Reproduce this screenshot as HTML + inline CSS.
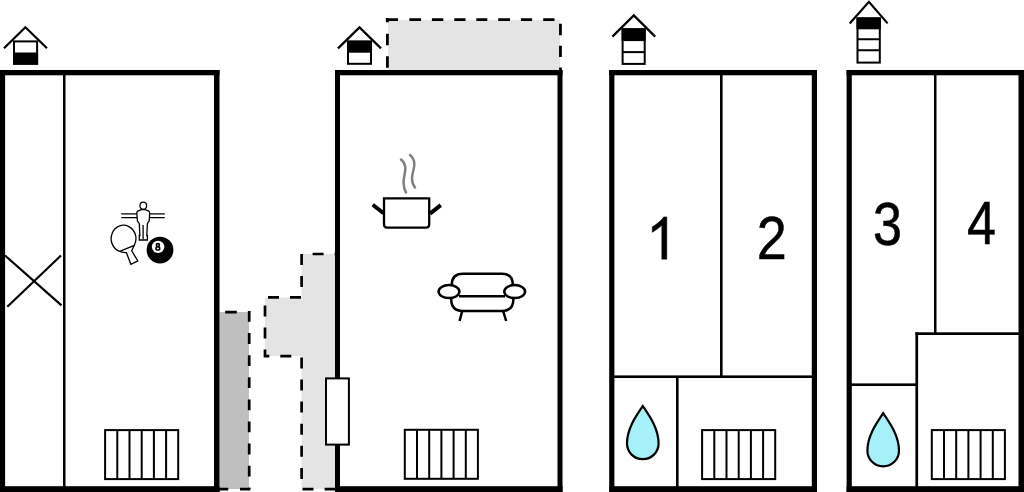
<!DOCTYPE html>
<html><head><meta charset="utf-8">
<style>
html,body{margin:0;padding:0;background:#fff;width:1024px;height:492px;overflow:hidden}
svg{display:block}
text{font-family:"Liberation Sans",sans-serif}
</style></head>
<body>
<svg width="1024" height="492" viewBox="0 0 1024 492">
<defs>
<g id="rad">
<rect x="1" y="1" width="73.1" height="49" fill="#fff" stroke="#000" stroke-width="2"/>
<path d="M13.2 1V50M25.4 1V50M37.6 1V50M49.8 1V50M62 1V50" stroke="#000" stroke-width="2"/>
</g>
<path id="drop" d="M0 0C-6 9 -15.8 22 -15.8 37.6A15.8 15.6 0 0 0 15.8 37.6C15.8 22 6 9 0 0Z" fill="#a6f0fa" stroke="#000" stroke-width="2.2" stroke-linejoin="miter"/>
</defs>

<!-- ============ grey annexes ============ -->
<!-- dark strip right of building 1 -->
<rect x="219.5" y="312" width="29.5" height="177" fill="#bfbfbf"/>
<g fill="none" stroke="#000" stroke-width="2.7">
<path d="M219.5 312.2H249" stroke-dasharray="0 5.7 11.6 100"/>
<path d="M249.2 311V489" stroke-dasharray="10.8 11.3"/>
<path d="M218.3 489.1H250.5" stroke-dasharray="10 11.7 10.3 100"/>
</g>

<!-- light grey left of building 2 -->
<path d="M301.6 254H337V489H301.6V356.1H265V297.4H301.6Z" fill="#e4e4e4"/>
<g fill="none" stroke="#000" stroke-width="2.7">
<path d="M335 254H301.6V297.4H265V356.1H301.6" stroke-dasharray="11 11" stroke-dashoffset="10.6"/>
<path d="M301.6 356.1V489.1H335" stroke-dasharray="11 11.1" stroke-dashoffset="20.8"/>
</g>

<!-- top grey rect -->
<rect x="388" y="20" width="172" height="50" fill="#e4e4e4"/>
<g fill="none" stroke="#000" stroke-width="2.8">
<path d="M385.8 19.7H562" stroke-dasharray="12.2 11.4 11.6 10.9 11.4 11 11.2 10.8 11 10.9 11.8 10.9 11.2 11.1 11.3 100"/>
<path d="M387.4 18.3V70" stroke-dasharray="3.9 11.6 11.5 10.9 11.5 100"/>
<path d="M560.45 19.5V70" stroke-dasharray="0 4.3 11.4 10.5 11.3 10.6 2.4 100"/>
</g>

<!-- ============ building walls ============ -->
<g fill="#000">
<!-- B1 -->
<rect x="0" y="70" width="219.5" height="5.3"/>
<rect x="0" y="70" width="5.1" height="422"/>
<rect x="214" y="70" width="5.5" height="422"/>
<rect x="0" y="486.2" width="219.5" height="6"/>
<rect x="63" y="75" width="2.5" height="412"/>
<!-- B2 -->
<rect x="335" y="70" width="227.5" height="5.3"/>
<rect x="335" y="70" width="5" height="422"/>
<rect x="557.5" y="70" width="5" height="422"/>
<rect x="335" y="486.2" width="227.5" height="6"/>
<!-- B3 -->
<rect x="609.2" y="70" width="207.8" height="5.3"/>
<rect x="609.2" y="70" width="5.2" height="422"/>
<rect x="811.8" y="70" width="5.2" height="422"/>
<rect x="609.2" y="486.2" width="207.8" height="6"/>
<rect x="720" y="75" width="2.6" height="302"/>
<rect x="614" y="375.4" width="198" height="2.6"/>
<rect x="676" y="377" width="2.6" height="110"/>
<!-- B4 -->
<rect x="846.6" y="70" width="177.4" height="5.3"/>
<rect x="846.6" y="70" width="5.2" height="422"/>
<rect x="1018.5" y="70" width="5.5" height="422"/>
<rect x="846.6" y="486.2" width="177.4" height="6"/>
<rect x="934" y="75" width="2.5" height="259"/>
<rect x="915.4" y="332.3" width="103.5" height="2.7"/>
<rect x="915.4" y="332.3" width="2.7" height="155"/>
<rect x="851" y="383.4" width="65" height="2.6"/>
</g>

<!-- X in B1 -->
<path d="M5 255.5L61.5 305.4M7.3 306.7L61 255.5" stroke="#000" stroke-width="2.2" fill="none"/>

<!-- window on B2 left wall -->
<rect x="326" y="378.4" width="22.9" height="66.2" fill="#fff" stroke="#000" stroke-width="2"/>

<!-- ============ houses ============ -->
<g fill="none" stroke="#000">
<!-- H1 -->
<path d="M4 48.2L25.4 27.2L47 48.2" stroke-width="2.2"/>
<rect x="14" y="41.4" width="23.1" height="22.3" stroke-width="2"/>
<rect x="13" y="52.5" width="25.1" height="12.2" fill="#000" stroke="none"/>
<!-- H2 -->
<path d="M338 48.4L359.5 27.4L381 48.4" stroke-width="2.2"/>
<rect x="348" y="41.6" width="23" height="22.2" stroke-width="2"/>
<rect x="347" y="40.6" width="25" height="12.1" fill="#000" stroke="none"/>
<!-- H3 -->
<path d="M612.4 36.6L633.8 15.4L655.2 36.6" stroke-width="2.2"/>
<rect x="622.6" y="29.3" width="22.1" height="34.6" stroke-width="2"/>
<rect x="621.6" y="28.3" width="24.1" height="12.8" fill="#000" stroke="none"/>
<path d="M622.6 52.1H644.7" stroke-width="2"/>
<!-- H4 -->
<path d="M849.7 23.4L868.9 1.8L887.6 23.4" stroke-width="2.2"/>
<rect x="857.5" y="18.4" width="22.3" height="44.2" stroke-width="2"/>
<rect x="856.5" y="17.4" width="24.3" height="11.9" fill="#000" stroke="none"/>
<path d="M857.5 39.3H879.8M857.5 50.3H879.8" stroke-width="2"/>
</g>

<!-- ============ radiators ============ -->
<use href="#rad" x="104.1" y="429.1"/>
<use href="#rad" x="403.8" y="428.8"/>
<use href="#rad" x="701.1" y="429.1"/>
<use href="#rad" x="930.8" y="429.1"/>

<!-- ============ drops ============ -->
<use href="#drop" x="642.8" y="406"/>
<use href="#drop" x="883.2" y="413.2"/>

<!-- ============ numbers ============ -->
<g font-size="60" fill="#000" stroke="#000" stroke-width="0.5">
<path d="M666.8 216.9V259.2H661.8V225.3C659.3 227.7 655.6 230.4 652.3 232.3V226.8C655.2 225.2 658.2 222.9 660.3 220.8C662 219.1 663 217.9 663.6 216.9Z"/>
<text transform="translate(756.8 259.2) scale(0.9 1.03)">2</text>
<text transform="translate(873 245) scale(0.87 1.03)">3</text>
<text transform="translate(967 244.1) scale(0.87 1.03)">4</text>
</g>

<!-- ============ pot ============ -->
<g fill="none" stroke="#000">
<path d="M372.8 204.8L383.5 213.2M440.8 205.2L430 213.6" stroke-width="4"/>
<path d="M384 198.4H429.2V224.6Q429.2 227.6 426.2 227.6H387Q384 227.6 384 224.6Z" fill="#fff" stroke-width="2.3"/>
</g>
<g fill="none" stroke="#808080" stroke-width="2.5" stroke-linecap="round">
<path d="M401 159.5C404 162 405.5 165 405.3 169C405 174 403.5 178 403.6 183C403.7 187 404.5 190 406 192.5"/>
<path d="M410 155C413 157.5 414.5 161 414.3 165C414 170 412 174 412 178C412 182 413 185 415 187.5"/>
</g>

<!-- ============ sofa ============ -->
<g fill="none" stroke="#000" stroke-width="2.5">
<path d="M462.2 311L459.6 321M503.1 311L506.2 321"/>
<path d="M451.8 286V285Q451.8 273.8 463 273.8H502Q512.8 273.8 512.8 285V286"/>
<path d="M451.2 297V299Q451.2 311 463 311H502Q513.4 311 513.4 299V297"/>
<path d="M459 296.3H505"/>
<ellipse cx="449" cy="291.6" rx="10.4" ry="6.5" fill="#fff"/>
<ellipse cx="514.7" cy="291.6" rx="10.4" ry="6.5" fill="#fff"/>
</g>

<!-- ============ games icon ============ -->
<g stroke="#000" fill="#fff" stroke-width="1.3">
<path d="M121.3 213.9H164.8M121.3 217.6H164.8" fill="none"/>
<ellipse cx="143.3" cy="205.7" rx="3.3" ry="3.5"/>
<path d="M141.4 209.6L137.6 211.2Q136.8 211.7 136.8 212.8L137.4 220.8L139.3 223.6L139.9 235.5H139.3V240H147.4V235.5H146.8L147.4 223.6L149.2 220.8L149.7 212.8Q149.7 211.7 148.9 211.2L145.2 209.6Z"/>
<path d="M143.1 225V239.3" fill="none"/>
<!-- paddle -->
<path d="M119.8 251.4A12.4 13.4 0 1 1 134.3 245.3L131.7 250.8L137.8 260.9L130.9 264.3L126.4 252.7Q122.5 252.6 119.8 251.4Z"/>
<path d="M119.8 251.4L134.3 245.3" fill="none"/>
<!-- 8 ball -->
<circle cx="160" cy="250.1" r="13.4" fill="#000" stroke="none"/>
<circle cx="158.1" cy="246.9" r="6.2" fill="#fff" stroke="none"/>
<ellipse cx="157.85" cy="245.1" rx="1.55" ry="1.45" fill="none" stroke-width="1.6"/>
<ellipse cx="157.85" cy="248.4" rx="1.85" ry="1.65" fill="none" stroke-width="1.6"/>
</g>

</svg>
</body></html>
